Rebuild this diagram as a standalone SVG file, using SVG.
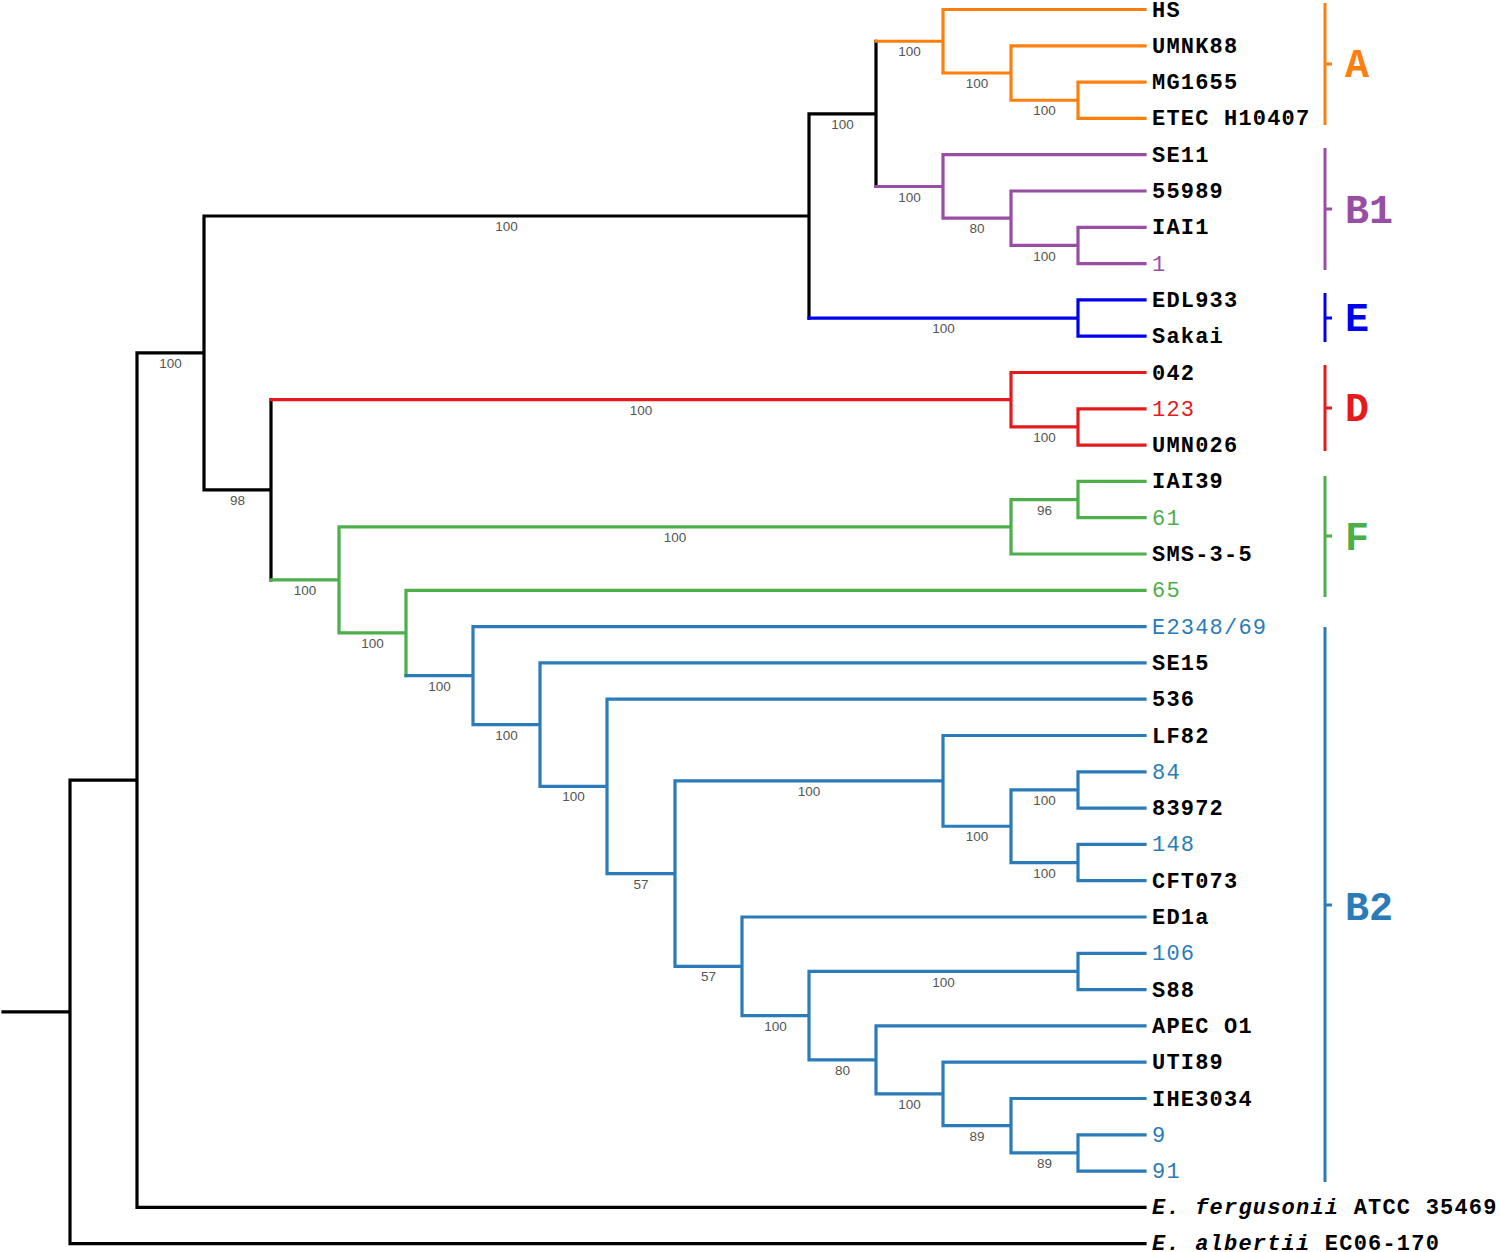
<svg xmlns="http://www.w3.org/2000/svg" width="1500" height="1252" viewBox="0 0 1500 1252">
<style>
.br path{fill:none;stroke-width:3.2;stroke-linecap:square}
.k{stroke:#000}.o{stroke:#ff7f0e}.p{stroke:#984ea3}.e{stroke:#0000f0}.r{stroke:#e41a1c}.g{stroke:#4daf4a}.b{stroke:#2b7bb9}
.lf{font-family:"Liberation Mono","DejaVu Sans Mono",monospace;font-size:22px;letter-spacing:1.2px;font-weight:bold;fill:#000}
.lc{font-weight:normal}
.to{fill:#ff7f0e}.tp{fill:#984ea3}.te{fill:#0000f0}.tr{fill:#e41a1c}.tg{fill:#4daf4a}.tb{fill:#2b7bb9}
.s{font-family:"Liberation Sans","DejaVu Sans",sans-serif;font-size:13.5px;fill:#555;text-anchor:middle}
.cl{font-family:"Liberation Mono","DejaVu Sans Mono",monospace;font-size:40px;font-weight:bold}
.bar{fill:none;stroke-width:3}
</style>
<g id="connectors" class="br">
<path class="k" d="M3 1011.9H70M70 780.15V1243.7M70 1243.7H1145M70 780.15H137M137 352.9V1207.4M137 1207.4H1145M137 352.9H204M204 216V489.8M204 216H809M809 113.9V318.05M809 113.9H876M876 41.25V186.5M204 489.8H271M271 399.7V579.9"/>
<path class="o" d="M876 41.25H943M943 9.5V73M943 9.5H1145M943 73H1011M1011 45.8V100.25M1011 45.8H1145M1011 100.25H1078M1078 82.1V118.4M1078 82.1H1145M1078 118.4H1145"/>
<path class="p" d="M876 186.5H943M943 154.7V218.2M943 154.7H1145M943 218.2H1011M1011 191V245.45M1011 191H1145M1011 245.45H1078M1078 227.3V263.6M1078 227.3H1145M1078 263.6H1145"/>
<path class="e" d="M809 318.05H1078M1078 299.9V336.2M1078 299.9H1145M1078 336.2H1145"/>
<path class="r" d="M271 399.7H1011M1011 372.5V426.95M1011 372.5H1145M1011 426.95H1078M1078 408.8V445.1M1078 408.8H1145M1078 445.1H1145"/>
<path class="g" d="M271 579.9H339M339 526.8V632.95M339 526.8H1011M1011 499.55V554M1011 554H1145M1011 499.55H1078M1078 481.4V517.7M1078 481.4H1145M1078 517.7H1145M339 632.95H406M406 590.3V675.6M406 590.3H1145"/>
<path class="b" d="M406 675.6H473M473 626.6V724.65M473 626.6H1145M473 724.65H540M540 662.9V786.4M540 662.9H1145M540 786.4H607M607 699.2V873.6M607 699.2H1145M607 873.6H675M675 780.9V966.3M675 780.9H943M943 735.5V826.25M943 735.5H1145M943 826.25H1011M1011 789.95V862.55M1011 789.95H1078M1078 771.8V808.1M1078 771.8H1145M1078 808.1H1145M1011 862.55H1078M1078 844.4V880.7M1078 844.4H1145M1078 880.7H1145M675 966.3H742M742 917V1015.7M742 917H1145M742 1015.7H809M809 971.45V1059.9M809 971.45H1078M1078 953.3V989.6M1078 953.3H1145M1078 989.6H1145M809 1059.9H876M876 1025.9V1093.95M876 1025.9H1145M876 1093.95H943M943 1062.2V1125.7M943 1062.2H1145M943 1125.7H1011M1011 1098.5V1152.95M1011 1098.5H1145M1011 1152.95H1078M1078 1134.8V1171.1M1078 1134.8H1145M1078 1171.1H1145"/>
</g>
<g id="support">
<text class="s" x="909.5" y="56.3">100</text>
<text class="s" x="977" y="88">100</text>
<text class="s" x="1044.5" y="115.3">100</text>
<text class="s" x="842.5" y="128.9">100</text>
<text class="s" x="909.5" y="201.5">100</text>
<text class="s" x="977" y="233.2">80</text>
<text class="s" x="1044.5" y="260.5">100</text>
<text class="s" x="506.5" y="231">100</text>
<text class="s" x="943.5" y="333">100</text>
<text class="s" x="170.5" y="367.9">100</text>
<text class="s" x="641" y="414.7">100</text>
<text class="s" x="1044.5" y="442">100</text>
<text class="s" x="237.5" y="504.8">98</text>
<text class="s" x="1044.5" y="514.6">96</text>
<text class="s" x="675" y="541.8">100</text>
<text class="s" x="305" y="594.9">100</text>
<text class="s" x="372.5" y="648">100</text>
<text class="s" x="439.5" y="690.6">100</text>
<text class="s" x="506.5" y="739.7">100</text>
<text class="s" x="573.5" y="801.4">100</text>
<text class="s" x="641" y="888.6">57</text>
<text class="s" x="809" y="795.9">100</text>
<text class="s" x="977" y="841.3">100</text>
<text class="s" x="1044.5" y="805">100</text>
<text class="s" x="1044.5" y="877.6">100</text>
<text class="s" x="708.5" y="981.3">57</text>
<text class="s" x="775.5" y="1030.7">100</text>
<text class="s" x="943.5" y="986.5">100</text>
<text class="s" x="842.5" y="1074.9">80</text>
<text class="s" x="909.5" y="1109">100</text>
<text class="s" x="977" y="1140.7">89</text>
<text class="s" x="1044.5" y="1168">89</text>
</g>
<g id="leaves">
<g id="leaf-HS"><text class="lf" x="1152" y="16.5">HS</text></g>
<g id="leaf-UMNK88"><text class="lf" x="1152" y="52.8">UMNK88</text></g>
<g id="leaf-MG1655"><text class="lf" x="1152" y="89.1">MG1655</text></g>
<g id="leaf-ETEC"><text class="lf" x="1152" y="125.4">ETEC H10407</text></g>
<g id="leaf-SE11"><text class="lf" x="1152" y="161.7">SE11</text></g>
<g id="leaf-55989"><text class="lf" x="1152" y="198">55989</text></g>
<g id="leaf-IAI1"><text class="lf" x="1152" y="234.3">IAI1</text></g>
<g id="leaf-1"><text class="lf lc tp" x="1152" y="270.6">1</text></g>
<g id="leaf-EDL933"><text class="lf" x="1152" y="306.9">EDL933</text></g>
<g id="leaf-Sakai"><text class="lf" x="1152" y="343.2">Sakai</text></g>
<g id="leaf-042"><text class="lf" x="1152" y="379.5">042</text></g>
<g id="leaf-123"><text class="lf lc tr" x="1152" y="415.8">123</text></g>
<g id="leaf-UMN026"><text class="lf" x="1152" y="452.1">UMN026</text></g>
<g id="leaf-IAI39"><text class="lf" x="1152" y="488.4">IAI39</text></g>
<g id="leaf-61"><text class="lf lc tg" x="1152" y="524.7">61</text></g>
<g id="leaf-SMS-3-5"><text class="lf" x="1152" y="561">SMS-3-5</text></g>
<g id="leaf-65"><text class="lf lc tg" x="1152" y="597.3">65</text></g>
<g id="leaf-E2348"><text class="lf lc tb" x="1152" y="633.6">E2348/69</text></g>
<g id="leaf-SE15"><text class="lf" x="1152" y="669.9">SE15</text></g>
<g id="leaf-536"><text class="lf" x="1152" y="706.2">536</text></g>
<g id="leaf-LF82"><text class="lf" x="1152" y="742.5">LF82</text></g>
<g id="leaf-84"><text class="lf lc tb" x="1152" y="778.8">84</text></g>
<g id="leaf-83972"><text class="lf" x="1152" y="815.1">83972</text></g>
<g id="leaf-148"><text class="lf lc tb" x="1152" y="851.4">148</text></g>
<g id="leaf-CFT073"><text class="lf" x="1152" y="887.7">CFT073</text></g>
<g id="leaf-ED1a"><text class="lf" x="1152" y="924">ED1a</text></g>
<g id="leaf-106"><text class="lf lc tb" x="1152" y="960.3">106</text></g>
<g id="leaf-S88"><text class="lf" x="1152" y="996.6">S88</text></g>
<g id="leaf-APEC"><text class="lf" x="1152" y="1032.9">APEC O1</text></g>
<g id="leaf-UTI89"><text class="lf" x="1152" y="1069.2">UTI89</text></g>
<g id="leaf-IHE3034"><text class="lf" x="1152" y="1105.5">IHE3034</text></g>
<g id="leaf-9"><text class="lf lc tb" x="1152" y="1141.8">9</text></g>
<g id="leaf-91"><text class="lf lc tb" x="1152" y="1178.1">91</text></g>
<g id="leaf-fergusonii"><text class="lf" x="1152" y="1214.4"><tspan font-style="italic">E. fergusonii</tspan> ATCC 35469</text></g>
<g id="leaf-albertii"><text class="lf" x="1152" y="1249.8"><tspan font-style="italic">E. albertii</tspan> EC06-170</text></g>
</g>
<g id="clade-A"><path class="bar o" d="M1325 3V125M1325 64H1332"/><text class="cl to" x="1345" y="77">A</text></g>
<g id="clade-B1"><path class="bar p" d="M1325 148V270M1325 209H1332"/><text class="cl tp" x="1345" y="223">B1</text></g>
<g id="clade-E"><path class="bar e" d="M1325 293V342M1325 318H1332"/><text class="cl te" x="1345" y="331">E</text></g>
<g id="clade-D"><path class="bar r" d="M1325 365V451M1325 408H1332"/><text class="cl tr" x="1345" y="421">D</text></g>
<g id="clade-F"><path class="bar g" d="M1325 476V597M1325 536H1332"/><text class="cl tg" x="1345" y="550">F</text></g>
<g id="clade-B2"><path class="bar b" d="M1325 627V1182M1325 905H1332"/><text class="cl tb" x="1345" y="920">B2</text></g>
</svg>
